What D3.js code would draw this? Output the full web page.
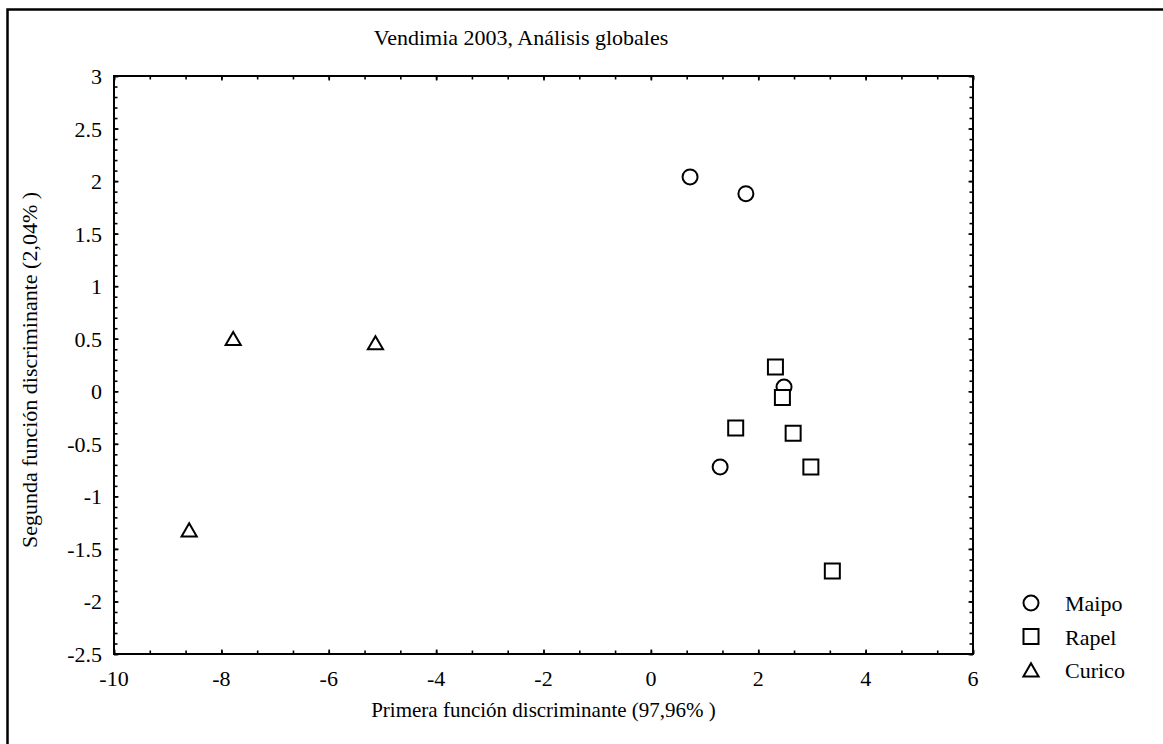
<!DOCTYPE html>
<html><head><meta charset="utf-8">
<script src="https://cdn.jsdelivr.net/npm/d3@7"></script>
<style>body{margin:0;background:#fff}svg{display:block}text{font-family:"Liberation Serif","Times New Roman",serif;fill:#000}</style>
</head><body>
<svg id="c" width="1163" height="744"></svg>
<script>
const title = "Vendimia 2003, Análisis globales";
const xLabel = "Primera función discriminante (97,96% )";
const yLabel = "Segunda función discriminante (2,04% )";
const xTicks = [-10, -8, -6, -4, -2, 0, 2, 4, 6];
const yTicks = [-2.5, -2, -1.5, -1, -0.5, 0, 0.5, 1, 1.5, 2, 2.5, 3];
const seriesNames = ["Maipo", "Rapel", "Curico"];
const maipoX = [0.73, 1.77, 2.48, 1.29];
const maipoY = [2.04, 1.88, 0.04, -0.72];
const rapelX = [2.32, 2.45, 1.58, 2.65, 2.98, 3.38];
const rapelY = [0.23, -0.06, -0.35, -0.40, -0.72, -1.71];
const curicoX = [-7.78, -5.13, -8.60];
const curicoY = [0.50, 0.46, -1.32];

const svg = d3.select("#c");
const L = 114, R = 973, T = 76, B = 654;
const x = d3.scaleLinear().domain([-10, 6]).range([L, R]);
const y = d3.scaleLinear().domain([-2.5, 3]).range([B, T]);

// outer frame (extends past the window on right/bottom)
svg.append("rect").attr("x", 7.5).attr("y", 9.5).attr("width", 1200).attr("height", 800)
  .attr("fill", "none").attr("stroke", "#000").attr("stroke-width", 2.5);

svg.append("text").attr("x", 521).attr("y", 45).attr("text-anchor", "middle")
  .attr("font-size", 22).text(title);

// minor tick values
const xMinor = d3.range(-10, 6.0001, 2/3).map(v => +v.toFixed(4));
const yMinor = d3.range(-2.5, 3.0001, 0.1).map(v => +v.toFixed(4));

function tickStyle(g) {
  g.select(".domain").remove();
  g.selectAll("line").attr("stroke", "#000").attr("stroke-width", 1.6);
}
// bottom axis (inward ticks)
svg.append("g").attr("transform", `translate(0,${B})`)
  .call(d3.axisTop(x).tickValues(xMinor).tickSize(3.5).tickFormat(""))
  .call(tickStyle);
svg.append("g").attr("transform", `translate(0,${B})`)
  .call(d3.axisTop(x).tickValues(xTicks).tickSize(4.5).tickFormat(""))
  .call(tickStyle);
// top axis
svg.append("g").attr("transform", `translate(0,${T})`)
  .call(d3.axisBottom(x).tickValues(xMinor).tickSize(3.5).tickFormat(""))
  .call(tickStyle);
svg.append("g").attr("transform", `translate(0,${T})`)
  .call(d3.axisBottom(x).tickValues(xTicks).tickSize(4.5).tickFormat(""))
  .call(tickStyle);
// left axis
svg.append("g").attr("transform", `translate(${L},0)`)
  .call(d3.axisRight(y).tickValues(yMinor).tickSize(3.5).tickFormat(""))
  .call(tickStyle);
svg.append("g").attr("transform", `translate(${L},0)`)
  .call(d3.axisRight(y).tickValues(yTicks).tickSize(4.5).tickFormat(""))
  .call(tickStyle);
// right axis
svg.append("g").attr("transform", `translate(${R},0)`)
  .call(d3.axisLeft(y).tickValues(yMinor).tickSize(3.5).tickFormat(""))
  .call(tickStyle);
svg.append("g").attr("transform", `translate(${R},0)`)
  .call(d3.axisLeft(y).tickValues(yTicks).tickSize(4.5).tickFormat(""))
  .call(tickStyle);

// tick labels
svg.append("g").selectAll("text").data(xTicks).join("text")
  .attr("x", d => x(d)).attr("y", B + 32).attr("text-anchor", "middle")
  .attr("font-size", 22).text(d => d);
svg.append("g").selectAll("text").data(yTicks).join("text")
  .attr("x", L - 12).attr("y", d => y(d) + 8).attr("text-anchor", "end")
  .attr("font-size", 22).text(d => d);

// plot frame
svg.append("rect").attr("x", L).attr("y", T).attr("width", R - L).attr("height", B - T)
  .attr("fill", "none").attr("stroke", "#000").attr("stroke-width", 2);

// axis titles
svg.append("text").attr("x", (L + R) / 2).attr("y", 717).attr("text-anchor", "middle")
  .attr("font-size", 21).text(xLabel);
svg.append("text").attr("transform", `translate(37,${(T + B) / 2 + 5}) rotate(-90)`)
  .attr("text-anchor", "middle").attr("font-size", 22).text(yLabel);

// symbols
const sym = {
  Maipo: d3.symbol().type(d3.symbolCircle).size(Math.PI * 7.5 * 7.5),
  Rapel: d3.symbol().type(d3.symbolSquare).size(15 * 15),
  Curico: d3.symbol().type(d3.symbolTriangle).size(100)
};
function pts(name, xs, ys) {
  return xs.map((v, i) => ({ name, x: v, y: ys[i] }));
}
const data = [
  ...pts("Curico", curicoX, curicoY),
  ...pts("Maipo", maipoX, maipoY),
  ...pts("Rapel", rapelX, rapelY)
];
svg.append("g").selectAll("path").data(data).join("path")
  .attr("transform", d => `translate(${x(d.x)},${y(d.y) + (d.name === "Curico" ? 2 : 0)})`)
  .attr("d", d => sym[d.name]())
  .attr("fill", "#fff").attr("stroke", "#000").attr("stroke-width", 2);

// legend
const lg = svg.append("g").selectAll("g").data(seriesNames).join("g")
  .attr("transform", (d, i) => `translate(1031,${603 + i * 33.5})`);
lg.append("path").attr("d", d => sym[d]())
  .attr("transform", d => d === "Curico" ? "translate(0,2)" : null)
  .attr("fill", "#fff").attr("stroke", "#000").attr("stroke-width", 2);
lg.append("text").attr("x", 34).attr("y", 8).attr("font-size", 22).text(d => d);
</script>
</body></html>
